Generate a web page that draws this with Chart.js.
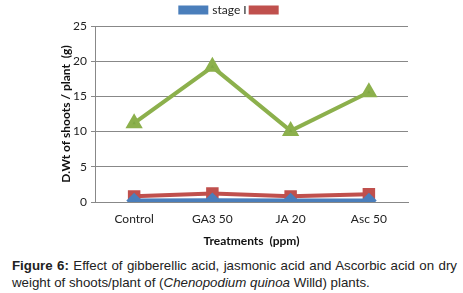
<!DOCTYPE html>
<html>
<head>
<meta charset="utf-8">
<script src="https://cdn.jsdelivr.net/npm/chart.js@4"></script>
<style>
  body { margin: 0; background: #fff; width: 463px; height: 293px; overflow: hidden; }
  #wrap { position: relative; width: 463px; height: 252px; }
  #caption { font-family: "Liberation Sans", Arial, sans-serif; font-size: 13.3px; line-height: 17px; color: #222; margin: 5px 0 0 12px; width: 445px; text-align: justify; text-align-last: left; }
</style>
</head>
<body>
<div id="wrap"><canvas id="chart"></canvas></div>
<div id="caption"><b>Figure 6:</b> Effect of gibberellic acid, jasmonic acid and Ascorbic acid on dry weight of shoots/plant of (<i>Chenopodium quinoa</i> Willd) plants.</div>
<script>
const treatments = ['Control', 'GA3 50', 'JA 20', 'Asc 50'];
const stage1 = [0.2, 0.25, 0.2, 0.2];
const stage2 = [0.8, 1.2, 0.8, 1.1];
const stage3 = [11.2, 19.2, 10.1, 15.6];
const yTicks = [0, 5, 10, 15, 20, 25];

const ctx = document.getElementById('chart').getContext('2d');
const myChart = new Chart(ctx, {
    type: 'line',
    data: {
        labels: treatments,
        datasets: [{
            label: 'stage I',
            data: stage1,
            borderColor: '#4a7ebb',
            backgroundColor: '#4a7ebb',
            borderWidth: 4,
            pointStyle: 'rectRot',
            pointRadius: 5
        }, {
            label: '',
            data: stage2,
            borderColor: '#c0504d',
            backgroundColor: '#c0504d',
            borderWidth: 4,
            pointStyle: 'rect',
            pointRadius: 6
        }, {
            label: 'stage III',
            data: stage3,
            borderColor: '#8cb04c',
            backgroundColor: '#7fa843',
            borderWidth: 4,
            pointStyle: 'triangle',
            pointRadius: 6
        }]
    },
    options: {
        responsive: true,
        maintainAspectRatio: false,
        animation: false,
        layout: { padding: { left: 55, right: 55, top: 0, bottom: 0 } },
        plugins: {
            legend: {
                labels: {
                    filter: item => item.datasetIndex < 2,
                    boxWidth: 26,
                    boxHeight: 5,
                    padding: 4,
                    color: '#222',
                    font: { family: 'Lato', size: 12 }
                }
            },
            tooltip: { enabled: false }
        },
        scales: {
            x: {
                offset: true,
                afterFit: axis => { axis.height = 50; },
                grid: { display: false, drawTicks: false },
                border: { color: '#888' },
                ticks: { color: '#222', font: { family: 'Lato', size: 12 }, padding: 10 },
                title: {
                    display: true,
                    text: 'Treatments  (ppm)',
                    color: '#111',
                    font: { family: 'Lato', size: 12, weight: 'bold' }
                }
            },
            y: {
                min: 0,
                max: 25,
                afterBuildTicks: axis => { axis.ticks = yTicks.map(v => ({ value: v })); },
                afterFit: axis => { axis.width = 40; },
                grid: { color: '#888', drawTicks: true, tickLength: 4 },
                border: { color: '#888' },
                ticks: { color: '#222', font: { family: 'Lato', size: 12 }, padding: 4 },
                title: {
                    display: true,
                    text: 'D.Wt of shoots / plant  (g)',
                    color: '#111',
                    font: { family: 'Lato', size: 12, weight: 'bold' }
                }
            }
        }
    }
});
</script>
</body>
</html>
